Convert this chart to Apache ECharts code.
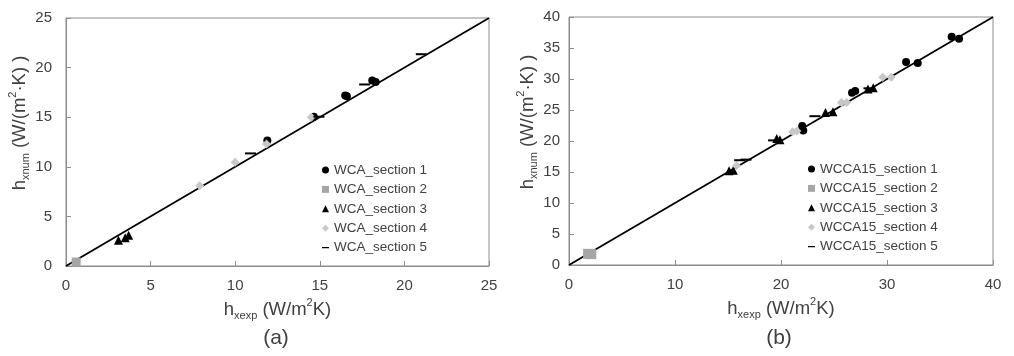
<!DOCTYPE html>
<html>
<head>
<meta charset="utf-8">
<script src="https://cdn.jsdelivr.net/npm/echarts@6/dist/echarts.min.js"></script>
<style>
  html, body { margin: 0; padding: 0; background: #fff; }
  #chart { width: 1014px; height: 356px; }
</style>
</head>
<body>
<div id="chart"></div>
<script>
// Panel (a): WCA sections, [h_xexp, h_xnum] pairs
const wcaSection1 = [[11.9, 12.65], [14.65, 15.05], [16.5, 17.2], [16.6, 17.1], [18.1, 18.7], [18.3, 18.55]];
const wcaSection2 = [[0.6, 0.4]];
const wcaSection3 = [[3.1, 2.6], [3.5, 2.85], [3.7, 3.1]];
const wcaSection4 = [[7.9, 8.1], [10.0, 10.45], [11.85, 12.3], [14.5, 15.0]];
const wcaSection5 = [[10.9, 11.35], [14.95, 15.05], [17.65, 18.3], [21.0, 21.35]];

// Panel (b): WCCA15 sections
const wccaSection1 = [[36.1, 36.8], [36.8, 36.5], [31.8, 32.75], [32.9, 32.6], [26.7, 27.8], [27.0, 28.05], [22.0, 22.4], [22.1, 21.7]];
const wccaSection2 = [[1.8, 1.8], [2.1, 1.75]];
const wccaSection3 = [[15.1, 15.2], [15.5, 15.3], [19.6, 20.4], [19.9, 20.2], [24.2, 24.6], [24.9, 24.7], [28.2, 28.4], [28.7, 28.6]];
const wccaSection4 = [[15.8, 16.0], [21.1, 21.5], [21.5, 21.6], [25.7, 26.2], [26.2, 26.2], [29.6, 30.3], [30.4, 30.3]];
const wccaSection5 = [[16.1, 16.9], [16.7, 17.0], [19.3, 20.1], [23.2, 24.0], [28.3, 28.5]];

// Axis ranges and legend labels
const axisMaxA = 25, tickStepA = 5;
const axisMaxB = 40, tickStepB = 5, xTickStepB = 10;
const namesA = ['WCA_section 1', 'WCA_section 2', 'WCA_section 3', 'WCA_section 4', 'WCA_section 5'];
const namesB = ['WCCA15_section 1', 'WCCA15_section 2', 'WCCA15_section 3', 'WCCA15_section 4', 'WCCA15_section 5'];
const panelLabels = ['(a)', '(b)'];

const FONT = "'Liberation Sans', Arial, sans-serif";
const TXT = '#404040';
const FRAME = '#8c8c8c';
const BLACK = '#000000';
const GRAY_SQ = '#a6a6a6';
const GRAY_DI = '#c8c8c8';
const DASH_ICON = 'path://M0,0L0.01,0L0.01,0.01L0,0.01Z M0,4.2L10,4.2L10,5.8L0,5.8Z M0,10L0.01,10L0.01,10.01L0,10.01Z';

const richName = {
  n:   { fontSize: 18.5, color: TXT, fontFamily: FONT, lineHeight: 24 },
  sub: { fontSize: 11, color: TXT, fontFamily: FONT, lineHeight: 13, verticalAlign: 'bottom' },
  sup: { fontSize: 11, color: TXT, fontFamily: FONT, lineHeight: 13, verticalAlign: 'top' }
};
const xName = '{n|h}{sub|xexp}{n| (W/m}{sup|2}{n|K)}';
const yName = '{n|h}{sub|xnum}{n| (W/(m}{sup|2}{n|·K) )}';

function xAxisCfg(gridIndex, max, step) {
  return {
    type: 'value', gridIndex, min: 0, max, interval: step,
    name: xName, nameLocation: 'middle', nameGap: 27,
    nameTextStyle: { rich: richName },
    axisLine: { show: true, lineStyle: { color: FRAME, width: 1 } },
    axisTick: { show: true, inside: true, length: 5, lineStyle: { color: FRAME } },
    splitLine: { show: false },
    axisLabel: { fontSize: 15, color: TXT, fontFamily: FONT, margin: 12 }
  };
}
function yAxisCfg(gridIndex, max, step, margin) {
  return {
    type: 'value', gridIndex, min: 0, max, interval: step,
    name: yName, nameLocation: 'middle', nameGap: 29,
    nameTextStyle: { rich: richName, padding: [0, 0, 0, 38] },
    axisLine: { show: true, lineStyle: { color: FRAME, width: 1 } },
    axisTick: { show: true, inside: true, length: 5, lineStyle: { color: FRAME } },
    splitLine: { show: false },
    axisLabel: { fontSize: 15, color: TXT, fontFamily: FONT, margin }
  };
}

function pointSeries(name, data, idx, symbol, size, color) {
  return {
    type: 'scatter', name, data, xAxisIndex: idx, yAxisIndex: idx,
    symbol, symbolSize: size, itemStyle: { color, opacity: 1 },
    emphasis: { disabled: true }, z: 3
  };
}
function diagonal(idx, max) {
  return {
    type: 'line', xAxisIndex: idx, yAxisIndex: idx, data: [[0, 0], [max, max]],
    symbol: 'none', silent: true, lineStyle: { color: BLACK, width: 1.8 }, z: 2
  };
}
function legendCfg(names, left, top) {
  const icons = ['circle', 'rect', 'triangle', 'diamond', DASH_ICON];
  return {
    orient: 'vertical', left, top, padding: 0, itemWidth: 7, itemHeight: 7, itemGap: 5.4,
    selectedMode: false,
    textStyle: { fontSize: 13.5, color: TXT, fontFamily: FONT, lineHeight: 14 },
    data: names.map((n, i) => ({ name: n, icon: icons[i] }))
  };
}

const option = {
  animation: false,
  backgroundColor: '#ffffff',
  textStyle: { fontFamily: FONT },
  title: [
    { text: panelLabels[0], left: 276, top: 328, textAlign: 'center', padding: 0,
      textStyle: { fontSize: 21, fontWeight: 'normal', color: TXT, fontFamily: FONT } },
    { text: panelLabels[1], left: 779, top: 328, textAlign: 'center', padding: 0,
      textStyle: { fontSize: 21, fontWeight: 'normal', color: TXT, fontFamily: FONT } }
  ],
  grid: [
    { left: 66, top: 18, width: 423, height: 248, show: true, borderColor: FRAME, borderWidth: 1 },
    { left: 569, top: 17, width: 424, height: 248, show: true, borderColor: FRAME, borderWidth: 1 }
  ],
  xAxis: [xAxisCfg(0, axisMaxA, tickStepA), xAxisCfg(1, axisMaxB, xTickStepB)],
  yAxis: [yAxisCfg(0, axisMaxA, tickStepA, 14), yAxisCfg(1, axisMaxB, tickStepB, 9)],
  legend: [legendCfg(namesA, 322, 163), legendCfg(namesB, 808, 162)],
  series: [
    diagonal(0, axisMaxA),
    pointSeries(namesA[0], wcaSection1, 0, 'circle', 8, BLACK),
    pointSeries(namesA[1], wcaSection2, 0, 'rect', 9, GRAY_SQ),
    pointSeries(namesA[2], wcaSection3, 0, 'triangle', 9, BLACK),
    pointSeries(namesA[3], wcaSection4, 0, 'diamond', 9, GRAY_DI),
    pointSeries(namesA[4], wcaSection5, 0, 'rect', [11, 2], BLACK),
    diagonal(1, axisMaxB),
    pointSeries(namesB[0], wccaSection1, 1, 'circle', 8, BLACK),
    pointSeries(namesB[1], wccaSection2, 1, 'rect', 10, GRAY_SQ),
    pointSeries(namesB[2], wccaSection3, 1, 'triangle', 9, BLACK),
    pointSeries(namesB[3], wccaSection4, 1, 'diamond', 9, GRAY_DI),
    pointSeries(namesB[4], wccaSection5, 1, 'rect', [11, 2], BLACK)
  ]
};

const chart = echarts.init(document.getElementById('chart'), null, { renderer: 'canvas' });
chart.setOption(option);
</script>
</body>
</html>
